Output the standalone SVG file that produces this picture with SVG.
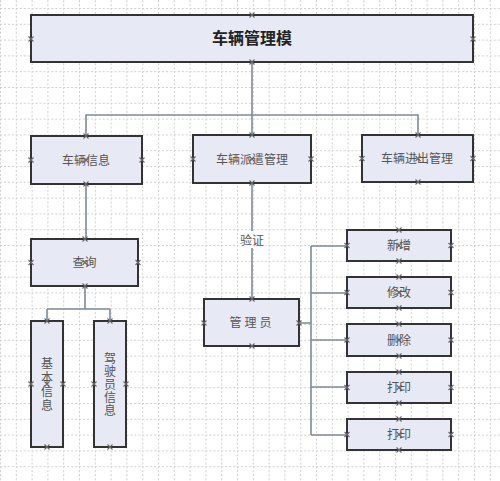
<svg xmlns="http://www.w3.org/2000/svg" xmlns:xlink="http://www.w3.org/1999/xlink" width="500" height="481" viewBox="0 0 500 481">
<style>
.box{fill:#e7eaf5;stroke:#333;stroke-width:2}
.lbl{font-family:"Noto Sans CJK SC","Noto Sans",sans-serif;font-size:12px;fill:#555;text-anchor:middle}
.vt{writing-mode:vertical-rl}
.title{font-family:"Noto Sans CJK SC","Noto Sans",sans-serif;font-size:16px;font-weight:bold;fill:#222;text-anchor:middle}
.conn{fill:none;stroke:#7d8b98;stroke-width:1.6}
.grid{stroke:#cfcfcf;stroke-width:1;stroke-dasharray:2 2}
</style>
<defs>
<pattern id="gridp" patternUnits="userSpaceOnUse" x="0" y="8" width="15.8" height="15.8">
<line class="grid" x1="0.5" y1="0" x2="0.5" y2="15.8"/>
<line class="grid" x1="0" y1="0.5" x2="15.8" y2="0.5"/>
</pattern>
<path id="x" d="M-2.5,-2.5L2.5,2.5M-2.5,2.5L2.5,-2.5" fill="none" stroke="#666" stroke-width="1.1"/>
</defs>
<rect width="500" height="481" fill="#fff"/>
<rect width="500" height="481" fill="url(#gridp)"/>

<g id="connectors">
<path class="conn" d="M252,62V135"/>
<path class="conn" d="M86,136V115H418V135"/>
<path class="conn" d="M86,184V239"/>
<path class="conn" d="M85,286V309M47,309H110M47,309V321M110,309V321"/>
<path class="conn" d="M252,183V299"/>
<rect x="238" y="231" width="28" height="17" fill="#fff"/>
<text class="lbl" x="252" y="244.5">验证</text>
<path class="conn" d="M299,323H311M311,246V435M311,246H347M311,293H347M311,340H347M311,387H347M311,435H347"/>
</g>

<g id="n-top">
<rect class="box" x="31" y="15" width="442" height="47"/>
<text class="title" x="252" y="44">车辆管理模</text>
<use xlink:href="#x" x="252" y="15"/><use xlink:href="#x" x="252" y="62"/><use xlink:href="#x" x="31" y="39"/><use xlink:href="#x" x="473" y="39"/>
</g>
<g id="n-carinfo">
<rect class="box" x="31" y="136" width="111" height="48"/>
<text class="lbl" x="86" y="164.5">车辆信息</text>
<use xlink:href="#x" x="86" y="136"/><use xlink:href="#x" x="86" y="184"/><use xlink:href="#x" x="31" y="160"/><use xlink:href="#x" x="142" y="160"/><use xlink:href="#x" x="86" y="160"/>
</g>
<g id="n-dispatch">
<rect class="box" x="193" y="135" width="118" height="48"/>
<text class="lbl" x="252" y="163.5">车辆派遣管理</text>
<use xlink:href="#x" x="252" y="135"/><use xlink:href="#x" x="252" y="183"/><use xlink:href="#x" x="193" y="159"/><use xlink:href="#x" x="311" y="159"/><use xlink:href="#x" x="252" y="159"/>
</g>
<g id="n-inout">
<rect class="box" x="362" y="135" width="111" height="47"/>
<text class="lbl" x="417" y="163">车辆进出管理</text>
<use xlink:href="#x" x="418" y="135"/><use xlink:href="#x" x="418" y="182"/><use xlink:href="#x" x="362" y="158.5"/><use xlink:href="#x" x="473" y="158.5"/><use xlink:href="#x" x="418" y="158.5"/>
</g>
<g id="n-query">
<rect class="box" x="31" y="239" width="107" height="47"/>
<text class="lbl" x="84.5" y="267">查询</text>
<use xlink:href="#x" x="85" y="239"/><use xlink:href="#x" x="85" y="286"/><use xlink:href="#x" x="31" y="262.5"/><use xlink:href="#x" x="138" y="262.5"/><use xlink:href="#x" x="85" y="262.5"/>
</g>
<g id="n-basic">
<rect class="box" x="31" y="321" width="32" height="126"/>
<text class="lbl vt" x="47" y="385" letter-spacing="2">基本信息</text>
<use xlink:href="#x" x="47" y="321"/><use xlink:href="#x" x="47" y="447"/><use xlink:href="#x" x="31" y="384"/><use xlink:href="#x" x="63" y="384"/><use xlink:href="#x" x="47" y="384"/>
</g>
<g id="n-driver">
<rect class="box" x="94" y="321" width="32" height="126"/>
<text class="lbl vt" x="110" y="384.5" font-size="11" letter-spacing="1">驾驶员信息</text>
<use xlink:href="#x" x="110" y="321"/><use xlink:href="#x" x="110" y="447"/><use xlink:href="#x" x="94" y="384"/><use xlink:href="#x" x="126" y="384"/>
</g>
<g id="n-admin">
<rect class="box" x="204" y="299" width="95" height="47"/>
<text class="lbl" x="252" y="327" letter-spacing="3">管理员</text>
<use xlink:href="#x" x="252" y="299"/><use xlink:href="#x" x="252" y="346"/><use xlink:href="#x" x="204" y="323"/><use xlink:href="#x" x="299" y="323"/>
</g>
<g id="n-add">
<rect class="box" x="347" y="230" width="104" height="31"/>
<text class="lbl" x="399" y="250">新增</text>
<use xlink:href="#x" x="399" y="230"/><use xlink:href="#x" x="399" y="261"/><use xlink:href="#x" x="347" y="245.5"/><use xlink:href="#x" x="451" y="245.5"/><use xlink:href="#x" x="399" y="245.5"/>
</g>
<g id="n-edit">
<rect class="box" x="347" y="277" width="104" height="31"/>
<text class="lbl" x="399" y="297">修改</text>
<use xlink:href="#x" x="399" y="277"/><use xlink:href="#x" x="399" y="308"/><use xlink:href="#x" x="347" y="292.5"/><use xlink:href="#x" x="451" y="292.5"/><use xlink:href="#x" x="399" y="292.5"/>
</g>
<g id="n-del">
<rect class="box" x="347" y="324" width="104" height="32"/>
<text class="lbl" x="399" y="344.5">删除</text>
<use xlink:href="#x" x="399" y="324"/><use xlink:href="#x" x="399" y="356"/><use xlink:href="#x" x="347" y="340"/><use xlink:href="#x" x="451" y="340"/><use xlink:href="#x" x="399" y="340"/>
</g>
<g id="n-print1">
<rect class="box" x="347" y="372" width="104" height="31"/>
<text class="lbl" x="399" y="392">打印</text>
<use xlink:href="#x" x="399" y="372"/><use xlink:href="#x" x="399" y="403"/><use xlink:href="#x" x="347" y="387.5"/><use xlink:href="#x" x="451" y="387.5"/><use xlink:href="#x" x="399" y="387.5"/>
</g>
<g id="n-print2">
<rect class="box" x="347" y="419" width="104" height="31"/>
<text class="lbl" x="399" y="439">打印</text>
<use xlink:href="#x" x="399" y="419"/><use xlink:href="#x" x="399" y="450"/><use xlink:href="#x" x="347" y="434.5"/><use xlink:href="#x" x="451" y="434.5"/><use xlink:href="#x" x="399" y="434.5"/>
</g>
</svg>
